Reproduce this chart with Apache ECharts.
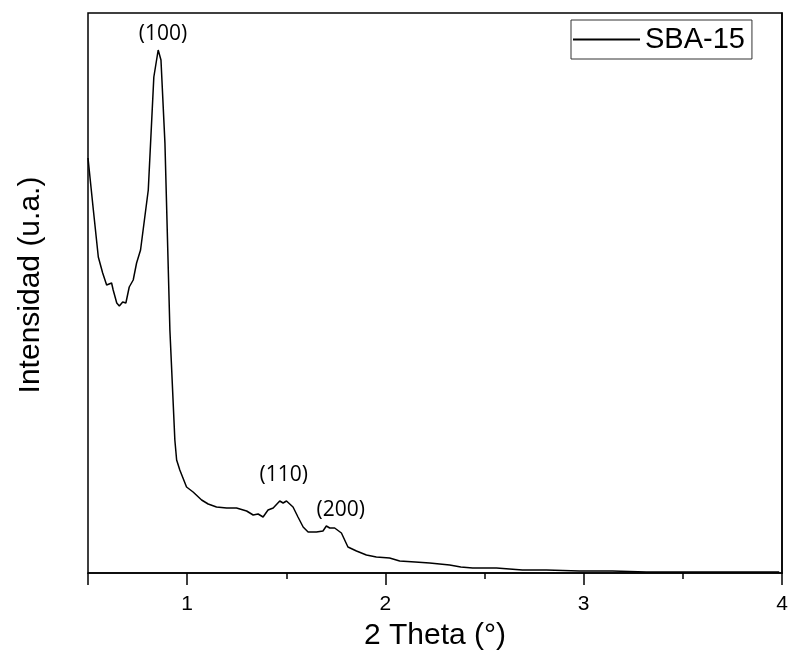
<!DOCTYPE html>
<html>
<head>
<meta charset="utf-8">
<script src="https://cdn.jsdelivr.net/npm/echarts@6/dist/echarts.min.js"></script>
<style>
html,body{margin:0;padding:0;background:#fff;}
#chart{width:792px;height:663px;}
</style>
</head>
<body>
<div id="chart"></div>
<script>
const twoTheta = [0.500,0.527,0.552,0.574,0.594,0.619,0.627,0.645,0.658,0.675,0.691,0.708,0.728,0.745,0.765,0.804,0.832,0.854,0.868,0.888,0.913,0.938,0.947,0.963,0.997,1.030,1.073,1.106,1.148,1.199,1.249,1.300,1.333,1.358,1.383,1.408,1.434,1.467,1.484,1.501,1.534,1.559,1.585,1.610,1.652,1.685,1.702,1.719,1.744,1.778,1.811,1.854,1.904,1.954,2.021,2.072,2.150,2.223,2.324,2.380,2.440,2.560,2.691,2.812,2.978,3.145,3.316,3.480,3.649,3.820,3.986];
const intensity = [415,363,316,300,288,290,283,270,267,271,270,286,293,310,323,383,496,523,513,430,243,133,113,103,86,81,73,69,66,65,65,62,58,59,56,63,65,72,70,72,66,56,46,41,41,42,47,45,45,40,26,22,18,16,15,12,11,10,8,6,5,5,3,3,2,2,1,1,1,1,1];
const seriesName = 'SBA-15';
const peakLabels = ['(100)','(110)','(200)'];
const peakX = [0.878,1.487,1.775];
const peakY = [539,98,63];
const majorTicks = [1,2,3,4];

const chart = echarts.init(document.getElementById('chart'), null, {renderer:'canvas'});
chart.setOption({
  animation:false,
  backgroundColor:'#fff',
  grid:{left:88,right:10,top:13,bottom:90,show:true,borderColor:'#000',borderWidth:1.5,backgroundColor:'transparent'},
  legend:{
    left:571, top:20, orient:'vertical',
    data:[{name:seriesName,icon:'path://M0 0H67V2H0Z'}],
    itemWidth:67, itemHeight:2,
    padding:[5,7,5,2],
    borderColor:'#333', borderWidth:1,
    itemStyle:{color:'#000'},
    lineStyle:{color:'#000',width:2},
    textStyle:{fontFamily:'Liberation Sans, Arial, sans-serif',fontSize:29,color:'#000'}
  },
  xAxis:[{
    type:'value', min:0.5, max:4, interval:0.5,
    axisLine:{show:true,lineStyle:{color:'#000',width:1.5}},
    axisTick:{show:true,length:6,lineStyle:{color:'#000',width:1.5}},
    axisLabel:{customValues:majorTicks,color:'#000',fontSize:21,fontFamily:'Liberation Sans, Arial, sans-serif',margin:21},
    splitLine:{show:false},
    name:'2 Theta (°)', nameLocation:'middle', nameGap:48,
    nameTextStyle:{color:'#000',fontSize:30,fontFamily:'Liberation Sans, Arial, sans-serif'}
  },{
    // helper axis drawn right-to-left so its long ticks fall on 4, 3, 2, 1
    type:'value', min:0, max:3.5, interval:1, inverse:true, position:'bottom',
    axisLine:{show:false},
    axisTick:{show:true,length:12,lineStyle:{color:'#000',width:1.5}},
    axisLabel:{show:false},
    splitLine:{show:false}
  }],
  yAxis:{
    type:'value', min:0, max:560,
    axisLine:{show:true,lineStyle:{color:'#000',width:1.5}},
    axisTick:{show:false}, axisLabel:{show:false}, splitLine:{show:false},
    name:'Intensidad (u.a.)', nameLocation:'middle', nameGap:42,
    nameTextStyle:{color:'#000',fontSize:30,fontFamily:'Liberation Sans, Arial, sans-serif',padding:[0,0,0,16]}
  },
  series:[{
    name:seriesName, type:'line', symbol:'none',
    data:twoTheta.map((x,i)=>[x,intensity[i]]),
    lineStyle:{color:'#000',width:1.5}, itemStyle:{color:'#000'}
  },{
    name:'labels', type:'scatter', symbolSize:0, silent:true,
    itemStyle:{color:'#000',opacity:1},
    data:peakX.map((x,i)=>({value:[x,peakY[i]],label:{show:true,formatter:peakLabels[i],color:'#000'}})),
    label:{position:'inside',color:'#000',fontSize:21,fontFamily:'Open Sans, Noto Sans, sans-serif'}
  }]
});
</script>
</body>
</html>
